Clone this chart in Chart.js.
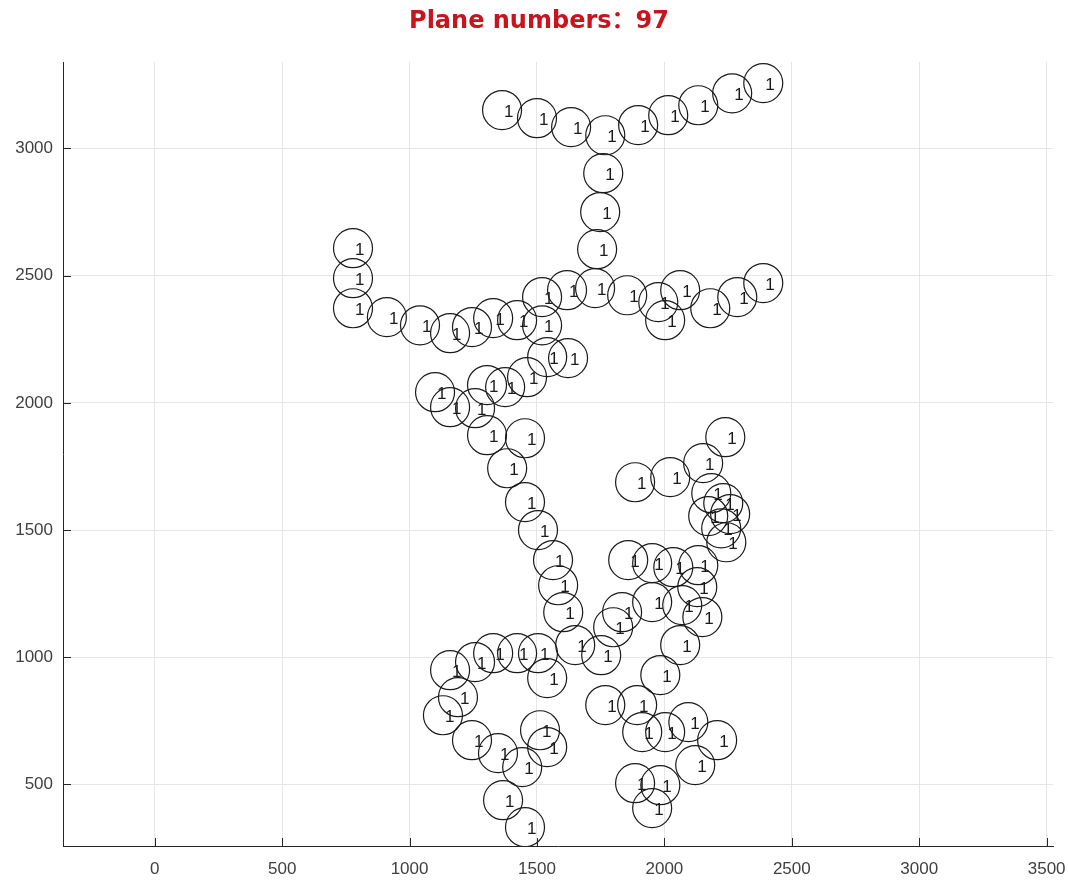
<!DOCTYPE html>
<html>
<head>
<meta charset="utf-8">
<script src="https://cdn.jsdelivr.net/npm/chart.js@4.4.0/dist/chart.umd.min.js"></script>
<style>
  html, body { margin: 0; padding: 0; background: #fff; }
  #wrap { width: 1068px; height: 881px; }
</style>
</head>
<body>
<div id="wrap"><canvas id="mycanvas"></canvas></div>
<script>
// plane positions (x, y)
var planeX = [1363,1500,1634,1768,1897,2015,2133,2266,2388,1760,1748,1736,
  1728,1618,1854,1976,2062,2003,2180,2286,2388,
  778,778,778,911,1041,1159,1245,1328,1422,1520,1520,1540,1622,
  1100,1159,1257,1304,1375,1461,1304,1453,
  1383,1453,1504,1563,1583,1603,1650,1752,1799,1834,
  2239,2152,2023,1885,2184,2231,2172,2258,2223,2243,1858,1952,2035,2133,2129,1952,2070,2149,2062,1984,1768,1893,1913,2003,2094,2207,2121,1885,1984,1952,
  1159,1257,1328,1422,1504,1540,1190,1131,1245,1347,1442,1512,1540,1367,1453];
var planeY = [3151,3119,3084,3052,3092,3131,3170,3217,3257,2903,2750,2604,
  2451,2443,2423,2396,2443,2325,2372,2416,2471,
  2608,2490,2372,2337,2305,2274,2298,2333,2325,2305,2416,2180,2176,
  2042,1983,1979,2070,2062,2101,1873,1861,
  1743,1610,1500,1382,1283,1177,1048,1008,1118,1177,
  1865,1763,1708,1688,1645,1606,1555,1563,1507,1452,1382,1370,1354,1362,1276,1217,1205,1158,1048,930,812,812,706,706,745,674,576,505,497,407,
  949,981,1016,1016,1016,918,843,772,674,623,568,713,647,438,332];
// number written inside each circle
var planeLabel = planeX.map(function(){ return "1"; });

var xTicks = [0, 500, 1000, 1500, 2000, 2500, 3000, 3500];
var yTicks = [500, 1000, 1500, 2000, 2500, 3000];
var titleText = "Plane numbers\uFF1A97";

var points = [];
for (var i in planeX) {
  points.push({x: planeX[i], y: planeY[i]});
}

// "1" inside every circle
var labelPlugin = {
  id: "planeLabels",
  afterDatasetsDraw: function(chart) {
    var ctx = chart.ctx;
    var meta = chart.getDatasetMeta(0);
    ctx.save();
    ctx.font = "17px 'Liberation Sans', Arial, sans-serif";
    ctx.fillStyle = "#1a1a1a";
    ctx.textAlign = "left";
    ctx.textBaseline = "middle";
    meta.data.forEach(function(pt, k) {
      ctx.fillText(planeLabel[k], pt.x + 2, pt.y + 2);
    });
    ctx.restore();
  }
};

// matlab style: ticks pointing inwards, x labels, title over the axes
var axisPlugin = {
  id: "matlabAxes",
  afterDraw: function(chart) {
    var ctx = chart.ctx;
    var xs = chart.scales.x, ys = chart.scales.y;
    var a = chart.chartArea;
    ctx.save();
    ctx.strokeStyle = "#262626";
    ctx.lineWidth = 1;
    ctx.beginPath();
    xTicks.forEach(function(v) {
      var px = Math.round(xs.getPixelForValue(v)) + 0.5;
      ctx.moveTo(px, a.bottom);
      ctx.lineTo(px, a.bottom - 8);
    });
    yTicks.forEach(function(v) {
      var py = Math.round(ys.getPixelForValue(v)) + 0.5;
      ctx.moveTo(a.left, py);
      ctx.lineTo(a.left + 8, py);
    });
    ctx.stroke();

    ctx.fillStyle = "#404040";
    ctx.font = "17px 'Liberation Sans', Arial, sans-serif";
    ctx.textAlign = "center";
    ctx.textBaseline = "middle";
    xTicks.forEach(function(v) {
      ctx.fillText(String(v), xs.getPixelForValue(v), a.bottom + 23);
    });

    ctx.fillStyle = "#c8141e";
    ctx.font = "bold 24px 'DejaVu Sans', 'Noto Sans CJK SC', sans-serif";
    ctx.fillText(titleText, 539, 22);
    ctx.restore();
  }
};

var ctx = document.getElementById("mycanvas");
var planeChart = new Chart(ctx, {
  type: "scatter",
  data: {
    datasets: [{
      label: "planes",
      data: points,
      pointStyle: "circle",
      pointRadius: 19.5,
      pointHoverRadius: 19.5,
      pointBorderWidth: 1.2,
      borderColor: "#1a1a1a",
      backgroundColor: "rgba(0,0,0,0)"
    }]
  },
  options: {
    responsive: true,
    maintainAspectRatio: false,
    animation: false,
    events: [],
    layout: { autoPadding: false, padding: { left: 0, right: 15, top: 62, bottom: 0 } },
    plugins: {
      legend: { display: false },
      tooltip: { enabled: false },
      title: { display: false }
    },
    scales: {
      x: {
        type: "linear",
        min: -360,
        max: 3525,
        afterBuildTicks: function(s) { s.ticks = xTicks.map(function(v){ return {value: v}; }); },
        afterFit: function(s) { s.height = 35; },
        grid: { color: "#e6e6e6", drawTicks: false },
        border: { display: true, color: "#262626", width: 1 },
        ticks: { display: false }
      },
      y: {
        type: "linear",
        min: 258,
        max: 3340,
        afterBuildTicks: function(s) { s.ticks = yTicks.map(function(v){ return {value: v}; }); },
        afterFit: function(s) { s.width = 63; s.paddingTop = 0; s.paddingBottom = 0; },
        grid: { color: "#e6e6e6", drawTicks: false },
        border: { display: true, color: "#262626", width: 1 },
        ticks: {
          padding: 10,
          color: "#404040",
          font: { family: "'Liberation Sans', Arial, sans-serif", size: 17 },
          callback: function(v) { return String(v); }
        }
      }
    }
  },
  plugins: [labelPlugin, axisPlugin]
});
</script>
</body>
</html>
